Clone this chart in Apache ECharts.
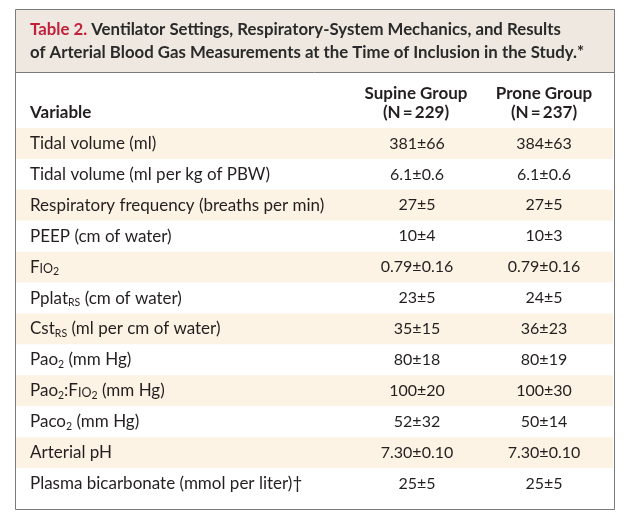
<!DOCTYPE html>
<html><head><meta charset="utf-8">
<script src="https://cdn.jsdelivr.net/npm/echarts@6/dist/echarts.min.js"></script>
<style>html,body{margin:0;padding:0;background:#fff}#c{width:624px;height:516px}</style>
</head><body><div id="c"></div>
<script>
// ---- data ----
const variables = [
  'Tidal volume (ml)',
  'Tidal volume (ml per kg of PBW)',
  'Respiratory frequency (breaths per min)',
  'PEEP (cm of water)',
  'F{sc|IO}{sub|2}',
  'Pplat{sub|RS} (cm of water)',
  'Cst{sub|RS} (ml per cm of water)',
  'Pao{sub|2} (mm Hg)',
  'Pao{sub|2}:F{sc|IO}{sub|2} (mm Hg)',
  'Paco{sub|2} (mm Hg)',
  'Arterial pH',
  'Plasma bicarbonate (mmol per liter)\u2020'
];
const supine = ['381\u00b166','6.1\u00b10.6','27\u00b15','10\u00b14','0.79\u00b10.16','23\u00b15','35\u00b115','80\u00b118','100\u00b120','52\u00b132','7.30\u00b10.10','25\u00b15'];
const prone  = ['384\u00b163','6.1\u00b10.6','27\u00b15','10\u00b13','0.79\u00b10.16','24\u00b15','36\u00b123','80\u00b119','100\u00b130','50\u00b114','7.30\u00b10.10','25\u00b15'];
const columnHeaders = ['Variable', 'Supine Group\n(N\u2009=\u2009229)', 'Prone Group\n(N\u2009=\u2009237)'];
const titleLines = ['{red|Table 2.} Ventilator Settings, Respiratory-System Mechanics, and Results',
                    'of Arterial Blood Gas Measurements at the Time of Inclusion in the Study.*'];

const FONT = 'Lato';
const TXT = '#231f20';
const rich = {
  sub: {fontSize: 10.5, fontFamily: FONT, color: TXT, padding: [9, 0, 0, 0]},
  sc: {fontSize: 12.5, fontFamily: FONT, color: TXT, padding: [4, 0, 0, 0]}
};

const chart = echarts.init(document.getElementById('c'), null, {renderer: 'canvas'});
const rowIdx = variables.map((_, i) => i);

chart.setOption({
  animation: false,
  grid: {left: 15, right: 10, top: 128, height: 371},
  xAxis: {type: 'value', min: 0, max: 599, show: false},
  yAxis: {type: 'category', data: rowIdx, inverse: true, show: false},
  series: [{
    type: 'custom',
    data: rowIdx.map(i => [0, i]),
    renderItem: function (params, api) {
      const i = api.value(1);
      const p = api.coord([0, i]);
      const h = api.size([0, 1])[1];
      const w = api.size([599, 0])[0];
      const cS = api.coord([402, i])[0];
      const cP = api.coord([529, i])[0];
      const base = {fontFamily: FONT, fontSize: 16, fill: TXT, verticalAlign: 'middle'};
      return {
        type: 'group',
        children: [
          {type: 'rect', shape: {x: p[0] + 1, y: p[1] - h / 2, width: w - 2, height: h},
           style: {fill: i % 2 === 0 ? '#fdf3e4' : '#ffffff'}},
          {type: 'text', x: p[0] + 15, y: p[1],
           style: Object.assign({}, base, {fontSize: 17, text: variables[i], align: 'left', rich: rich})},
          {type: 'text', x: cS, y: p[1],
           style: Object.assign({}, base, {text: supine[i], align: 'center'})},
          {type: 'text', x: cP, y: p[1],
           style: Object.assign({}, base, {text: prone[i], align: 'center'})}
        ]
      };
    }
  }],
  graphic: [
    {type: 'rect', shape: {x: 15.5, y: 9.5, width: 599, height: 63}, style: {fill: '#eee8e0', stroke: 'none'}, z: -1},
    {type: 'line', shape: {x1: 15, y1: 72.5, x2: 614, y2: 72.5}, style: {stroke: '#7a7a7a', lineWidth: 1}},
    {type: 'rect', shape: {x: 15.5, y: 9.5, width: 599, height: 500}, style: {fill: 'none', stroke: '#7a7a7a', lineWidth: 1}, z: 100},
    {type: 'text', x: 30, y: 30, style: {text: titleLines[0], fontFamily: FONT, fontWeight: 'bold', fontSize: 16.8, fill: '#2a2a2a', verticalAlign: 'middle',
      rich: {red: {fontFamily: FONT, fontWeight: 'bold', fontSize: 16.8, fill: '#c21f3a', color: '#c21f3a'}}}},
    {type: 'text', x: 30, y: 53, style: {text: titleLines[1], fontFamily: FONT, fontWeight: 'bold', fontSize: 16.8, fill: '#2a2a2a', verticalAlign: 'middle'}},
    {type: 'text', x: 30, y: 113, style: {text: columnHeaders[0], fontFamily: FONT, fontWeight: 'bold', fontSize: 17, fill: TXT, verticalAlign: 'middle'}},
    {type: 'text', x: 416, y: 103, style: {text: columnHeaders[1], fontFamily: FONT, fontWeight: 'bold', fontSize: 17, lineHeight: 19, fill: TXT, align: 'center', verticalAlign: 'middle'}},
    {type: 'text', x: 544, y: 103, style: {text: columnHeaders[2], fontFamily: FONT, fontWeight: 'bold', fontSize: 17, lineHeight: 19, fill: TXT, align: 'center', verticalAlign: 'middle'}}
  ]
});
</script></body></html>
